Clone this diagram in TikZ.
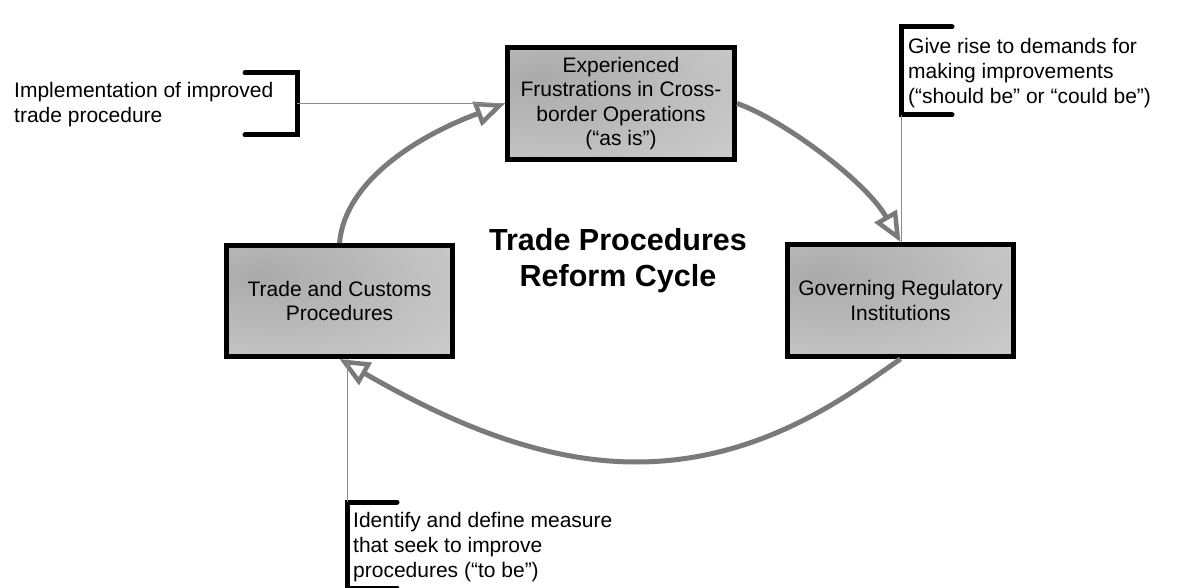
\documentclass[tikz,border=0pt]{standalone}
\usepackage{fontspec}
\setmainfont{Liberation Sans}
\usetikzlibrary{arrows.meta}
\definecolor{shA}{RGB}{170,170,170}
\definecolor{shB}{RGB}{214,214,214}
\definecolor{flowgray}{RGB}{122,122,122}
\definecolor{thingray}{RGB}{140,140,140}
\pgfdeclareradialshading{boxshade}{\pgfpoint{-18bp}{12bp}}{color(0bp)=(shA); color(45bp)=(shB!75!shA); color(80bp)=(shB); color(100bp)=(shB)}
\tikzset{
  stagebox/.style={draw=black, line width=5pt, shading=boxshade, align=center,
    font=\fontsize{21}{24.5}\selectfont, inner sep=0pt},
  flow/.style={draw=flowgray, line width=5pt,
    -{Triangle[length=30pt,width=25pt,fill=white,line width=4.5pt]}},
  thinlink/.style={draw=thingray, line width=1pt},
  bracketline/.style={draw=black, line width=5pt, line cap=round, line join=miter},
  note/.style={align=left, anchor=north west, inner sep=0pt,
    font=\fontsize{21}{25}\selectfont},
  titletext/.style={align=center, anchor=north, inner sep=0pt,
    font=\fontsize{30.5}{36}\selectfont\bfseries}
}
\begin{document}
\begin{tikzpicture}[x=1pt,y=-1pt]
\useasboundingbox[fill=white] (0,0) rectangle (1179,588);

% stage boxes
\node[stagebox, minimum width=227pt, minimum height=112pt] (T) at (621,103.5)
  {Experienced\\Frustrations in Cross-\\border Operations\\(“as is”)};
\node[stagebox, minimum width=226pt, minimum height=111pt] (L) at (339.5,301)
  {Trade and Customs\\Procedures};
\node[stagebox, minimum width=226pt, minimum height=112pt] (R) at (900.5,300.5)
  {Governing Regulatory\\Institutions};

% title
\node[titletext] (title) at (618,228) {Trade Procedures\\Reform Cycle};

% cycle arrows
\draw[flow] (L.north) .. controls (345,180) and (420,135) .. (T.west);
\draw[flow] (T.east) .. controls (780,118) and (865,180) .. (R.north);
\draw[flow] (R.south) .. controls (850,394) and (762,462) .. (636,462)
  .. controls (530,462) and (432,412) .. (L.south);

% left annotation
\node[note] (nl) at (14,82.5) {Implementation of improved\\trade procedure};
\draw[bracketline] (245,73) -- (297,73) -- (297,135) -- (245,135);
\coordinate (lb) at (297,104);
\draw[thinlink] (lb) -- (lb -| T.west);

% right annotation
\node[note] (nr) at (908,38.5) {Give rise to demands for\\making improvements\\(“should be” or “could be”)};
\draw[bracketline] (952,27) -- (901,27) -- (901,115) -- (952,115);
\coordinate (rb) at (901,115);
\draw[thinlink] (rb) -- (rb |- R.north);

% bottom annotation
\node[note] (nb) at (353,512) {Identify and define measure\\that seek to improve\\procedures (“to be”)};
\draw[bracketline] (397,502) -- (347,502) -- (347,588) -- (397,588);
\coordinate (bb) at (347,502);
\draw[thinlink] (bb) -- (bb |- L.south);
\end{tikzpicture}
\end{document}
